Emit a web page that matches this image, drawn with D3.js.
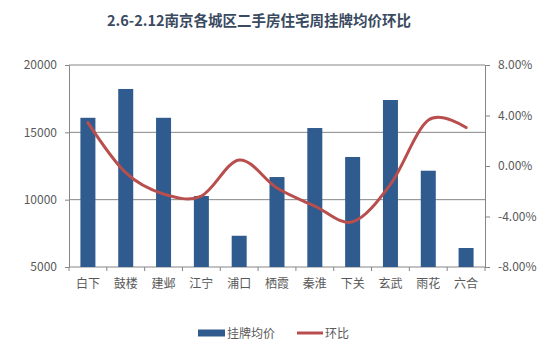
<!DOCTYPE html>
<html><head><meta charset="utf-8">
<script src="https://cdn.jsdelivr.net/npm/d3@7"></script>
<style>
body{margin:0;background:#fff;}
text{font-family:"Noto Sans CJK SC","Noto Sans",sans-serif;}
</style></head>
<body><svg id="c" width="547" height="345"></svg>
<script>
const categories = ["白下","鼓楼","建邺","江宁","浦口","栖霞","秦淮","下关","玄武","雨花","六合"];
const prices = [16080, 18220, 16080, 10270, 7320, 11680, 15320, 13170, 17400, 12150, 6410];
const ratios = [3.44, -0.53, -2.22, -2.38, 0.48, -1.75, -3.17, -4.42, -1.45, 3.63, 3.04];
const leftTicks = [5000, 10000, 15000, 20000];
const rightTicks = [-8, -4, 0, 4, 8];
const title = "2.6-2.12南京各城区二手房住宅周挂牌均价环比";
const legendLabels = ["挂牌均价", "环比"];

const svg = d3.select("#c");
const L = 69, R = 485, T = 65, B = 267;
const axisCol = "#868686", txtCol = "#595959";
const barCol = "#2f5b8e", lineCol = "#b84e4d";

const xb = d3.scaleBand().domain(categories).range([L, R]);
const yL = d3.scaleLinear().domain([5000, 20000]).range([B, T]);
const yR = d3.scaleLinear().domain([-8, 8]).range([B, T]);

svg.append("text").attr("x", 259).attr("y", 26).attr("text-anchor", "middle")
  .attr("font-size", 14.5).attr("font-weight", "bold").attr("fill", "#3a4a5f").text(title);

// gridlines
svg.append("g").selectAll("line").data(leftTicks.slice(1)).join("line")
  .attr("x1", L).attr("x2", R).attr("y1", d => yL(d)).attr("y2", d => yL(d))
  .attr("stroke", axisCol).attr("stroke-width", 1);

// left axis
const gl = svg.append("g").attr("transform", `translate(${L},0)`)
  .call(d3.axisLeft(yL).tickValues(leftTicks).tickSize(4).tickPadding(8).tickFormat(d3.format("d")));
// right axis
const gr = svg.append("g").attr("transform", `translate(${R},0)`)
  .call(d3.axisRight(yR).tickValues(rightTicks).tickSize(5).tickPadding(8).tickFormat(d => d.toFixed(2) + "%"));
// bottom axis
const gb = svg.append("g").attr("transform", `translate(0,${B})`)
  .call(d3.axisBottom(xb).tickSize(0).tickPadding(12));
gb.selectAll("line.bt").data(categories.concat(["_end"])).join("line").attr("class","bt")
  .attr("x1", (d,i) => L + i * xb.bandwidth()).attr("x2", (d,i) => L + i * xb.bandwidth())
  .attr("y1", 0).attr("y2", 4).attr("stroke", axisCol);

[gl, gr, gb].forEach(g => {
  g.select(".domain").attr("stroke", axisCol);
  g.selectAll(".tick line").attr("stroke", axisCol);
  g.selectAll("text").attr("fill", txtCol).attr("font-size", 12)
    .attr("font-family", '"Noto Sans CJK SC","Noto Sans",sans-serif');
});
gb.select(".domain").attr("d", `M${L},0H${R}`);

// bars
svg.append("g").selectAll("rect").data(prices).join("rect")
  .attr("x", (d,i) => xb(categories[i]) + xb.bandwidth()/2 - 7.5)
  .attr("width", 15)
  .attr("y", d => yL(d)).attr("height", d => B - yL(d))
  .attr("fill", barCol);

// line
const line = d3.line().x((d,i) => xb(categories[i]) + xb.bandwidth()/2).y(d => yR(d))
  .curve(d3.curveCardinal.tension(0));
svg.append("path").datum(ratios).attr("d", line).attr("fill", "none")
  .attr("stroke", lineCol).attr("stroke-width", 3).attr("stroke-linecap", "round");

// legend
const lg = svg.append("g");
lg.append("rect").attr("x", 198).attr("y", 329.5).attr("width", 27).attr("height", 7).attr("fill", barCol);
lg.append("text").attr("x", 227).attr("y", 337.5).attr("font-size", 12).attr("fill", txtCol).text(legendLabels[0]);
lg.append("line").attr("x1", 297).attr("x2", 323).attr("y1", 333).attr("y2", 333)
  .attr("stroke", lineCol).attr("stroke-width", 3);
lg.append("text").attr("x", 325).attr("y", 337.5).attr("font-size", 12).attr("fill", txtCol).text(legendLabels[1]);
</script></body></html>
